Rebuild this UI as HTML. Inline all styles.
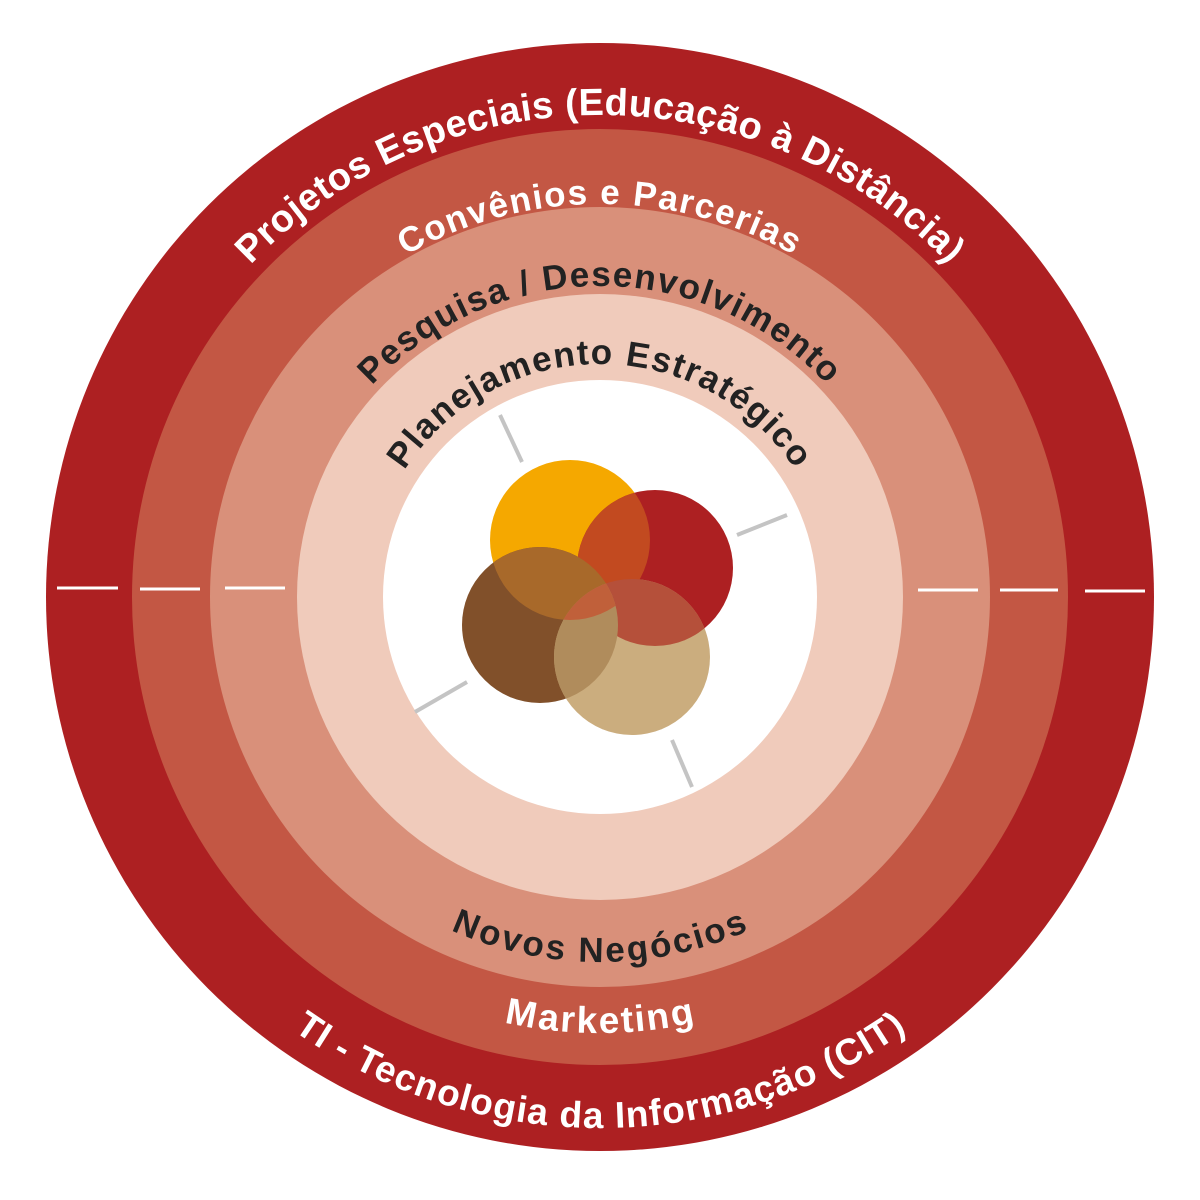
<!DOCTYPE html>
<html><head><meta charset="utf-8"><style>html,body{margin:0;padding:0;background:#fff}svg{display:block}</style></head><body>
<svg width="1200" height="1200" viewBox="0 0 1200 1200" xmlns="http://www.w3.org/2000/svg">
<defs>
<path id="t1" d="M 118 597 A 482 482 0 0 1 1082 597"/>
<path id="t2" d="M 207 597 A 393 393 0 0 1 993 597"/>
<path id="t3" d="M 289 597 A 311 311 0 0 1 911 597"/>
<path id="t4" d="M 367 597 A 233 233 0 0 1 833 597"/>
<path id="b1" d="M 260 597 A 340 340 0 0 0 940 597"/>
<path id="b2" d="M 190 597 A 410 410 0 0 0 1010 597"/>
<path id="b3" d="M 95 597 A 505 505 0 0 0 1105 597"/>
<clipPath id="cO"><circle cx="570" cy="540" r="80"/></clipPath>
<clipPath id="cR"><circle cx="655" cy="568" r="78"/></clipPath>
<clipPath id="cB"><circle cx="540" cy="625" r="78"/></clipPath>
</defs>
<circle cx="600" cy="597" r="554" fill="#ad2022"/>
<circle cx="600" cy="597" r="468" fill="#c35744"/>
<circle cx="600" cy="597" r="390" fill="#d9907a"/>
<circle cx="600" cy="597" r="303" fill="#f0cbbb"/>
<circle cx="600" cy="597" r="217" fill="#fff"/>
<g stroke="#fff" stroke-width="3">
<line x1="57" y1="588" x2="118" y2="588"/><line x1="140" y1="589" x2="200" y2="589"/><line x1="225" y1="588" x2="285" y2="588"/>
<line x1="918" y1="590" x2="978" y2="590"/><line x1="1000" y1="590" x2="1058" y2="590"/><line x1="1085" y1="591" x2="1145" y2="591"/>
</g>
<g stroke="#c4c4c4" stroke-width="4">
<line x1="500" y1="415" x2="522" y2="462"/><line x1="737" y1="535" x2="787" y2="515"/>
<line x1="415" y1="712" x2="467" y2="682"/><line x1="672" y1="740" x2="692" y2="787"/>
</g>
<circle cx="570" cy="540" r="80" fill="#f5a800"/>
<circle cx="655" cy="568" r="78" fill="#ad2022"/>
<circle cx="540" cy="625" r="78" fill="#81502a"/>
<circle cx="632" cy="657" r="78" fill="#cbad7e"/>
<circle cx="655" cy="568" r="78" fill="#c24a20" clip-path="url(#cO)"/>
<circle cx="540" cy="625" r="78" fill="#a8692a" clip-path="url(#cO)"/>
<circle cx="632" cy="657" r="78" fill="#b5503a" clip-path="url(#cR)"/>
<circle cx="632" cy="657" r="78" fill="#b08c5c" clip-path="url(#cB)"/>
<g clip-path="url(#cO)"><circle cx="632" cy="657" r="78" fill="#c0603a" clip-path="url(#cB)"/></g>
<g font-family="Liberation Sans, sans-serif" font-weight="bold" text-anchor="middle">
<text font-size="38" letter-spacing="0.4" fill="#fff"><textPath href="#t1" startOffset="50%">Projetos Especiais (Educação à Distância)</textPath></text>
<text font-size="35" letter-spacing="1.5" fill="#fff"><textPath href="#t2" startOffset="50%">Convênios e Parcerias</textPath></text>
<text font-size="35" letter-spacing="1.5" fill="#222"><textPath href="#t3" startOffset="50%">Pesquisa / Desenvolvimento</textPath></text>
<text font-size="35" letter-spacing="1.5" fill="#222"><textPath href="#t4" startOffset="50%">Planejamento Estratégico</textPath></text>
<text font-size="35" letter-spacing="1" fill="#222" dominant-baseline="hanging"><textPath href="#b1" startOffset="50%">Novos Negócios</textPath></text>
<text font-size="37" letter-spacing="1" fill="#fff" dominant-baseline="hanging"><textPath href="#b2" startOffset="50%">Marketing</textPath></text>
<text font-size="37" letter-spacing="0.2" fill="#fff" dominant-baseline="hanging"><textPath href="#b3" startOffset="50%">TI - Tecnologia da Informação (CIT)</textPath></text>
</g>
</svg>
</body></html>
